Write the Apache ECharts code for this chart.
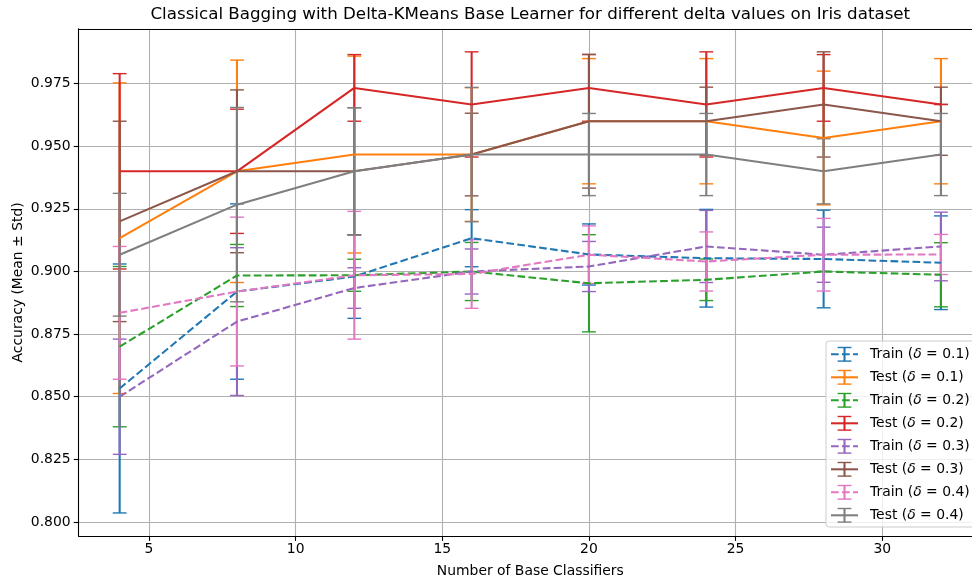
<!DOCTYPE html>
<html>
<head>
<meta charset="utf-8">
<script src="https://cdn.jsdelivr.net/npm/echarts/dist/echarts.min.js"></script>
<style>
  html, body { margin: 0; padding: 0; background: #ffffff; }
  #chart { width: 972px; height: 582px; }
</style>
</head>
<body>
<div id="chart"></div>
<script>
// Ensemble sizes on the x axis
const ensembleSizes = [4, 8, 12, 16, 20, 24, 28, 32];

// Mean accuracy and standard deviation per delta value
const trainMean01 = [0.8533, 0.8920, 0.8980, 0.9133, 0.9068, 0.9053, 0.9050, 0.9035];
const trainStd01  = [0.0497, 0.0350, 0.0167, 0.0114, 0.0122, 0.0195, 0.0195, 0.0187];
const testMean01  = [0.9133, 0.9400, 0.9467, 0.9467, 0.9600, 0.9600, 0.9533, 0.9600];
const testStd01   = [0.0620, 0.0444, 0.0393, 0.0267, 0.0250, 0.0250, 0.0267, 0.0250];

const trainMean02 = [0.8700, 0.8984, 0.8985, 0.9000, 0.8953, 0.8967, 0.9000, 0.8987];
const trainStd02  = [0.0320, 0.0124, 0.0064, 0.0116, 0.0194, 0.0083, 0.0000, 0.0128];
const testMean02  = [0.9400, 0.9400, 0.9733, 0.9667, 0.9733, 0.9667, 0.9733, 0.9667];
const testStd02   = [0.0390, 0.0248, 0.0133, 0.0210, 0.0133, 0.0210, 0.0133, 0.0000];

const trainMean03 = [0.8500, 0.8800, 0.8934, 0.9000, 0.9020, 0.9100, 0.9067, 0.9100];
const trainStd03  = [0.0230, 0.0295, 0.0081, 0.0090, 0.0100, 0.0144, 0.0110, 0.0137];
const testMean03  = [0.9200, 0.9400, 0.9400, 0.9467, 0.9600, 0.9600, 0.9667, 0.9600];
const testStd03   = [0.0400, 0.0325, 0.0254, 0.0165, 0.0267, 0.0136, 0.0210, 0.0136];

const trainMean04 = [0.8835, 0.8920, 0.8985, 0.8990, 0.9067, 0.9040, 0.9067, 0.9068];
const trainStd04  = [0.0265, 0.0297, 0.0255, 0.0137, 0.0115, 0.0118, 0.0145, 0.0080];
const testMean04  = [0.9067, 0.9267, 0.9400, 0.9467, 0.9467, 0.9467, 0.9400, 0.9467];
const testStd04   = [0.0245, 0.0388, 0.0254, 0.0268, 0.0164, 0.0164, 0.0130, 0.0164];

// Axis ticks
const xTickValues = [5, 10, 15, 20, 25, 30];
const yTickValues = [0.800, 0.825, 0.850, 0.875, 0.900, 0.925, 0.950, 0.975];

const seriesDefs = [
  { label: 'Train', delta: '0.1', color: '#1f77b4', dashed: true,  mean: trainMean01, std: trainStd01 },
  { label: 'Test',  delta: '0.1', color: '#ff7f0e', dashed: false, mean: testMean01,  std: testStd01 },
  { label: 'Train', delta: '0.2', color: '#2ca02c', dashed: true,  mean: trainMean02, std: trainStd02 },
  { label: 'Test',  delta: '0.2', color: '#d62728', dashed: false, mean: testMean02,  std: testStd02 },
  { label: 'Train', delta: '0.3', color: '#9467bd', dashed: true,  mean: trainMean03, std: trainStd03 },
  { label: 'Test',  delta: '0.3', color: '#8c564b', dashed: false, mean: testMean03,  std: testStd03 },
  { label: 'Train', delta: '0.4', color: '#e377c2', dashed: true,  mean: trainMean04, std: trainStd04 },
  { label: 'Test',  delta: '0.4', color: '#7f7f7f', dashed: false, mean: testMean04,  std: testStd04 }
];

// Layout of the axes box (pixels)
const FONT = 'DejaVu Sans';
const FS = 13.9;
const AX_LEFT = 78.6, AX_TOP = 28.8, AX_HEIGHT = 507.2, AX_WIDTH = 903.4;
const X_MIN = 2.6, X_MAX = 33.4, Y_MIN = 0.7944, Y_MAX = 0.9969;
const pxPerX = AX_WIDTH / (X_MAX - X_MIN);
const pxPerY = AX_HEIGHT / (Y_MAX - Y_MIN);
const xTickLeft = AX_LEFT + (xTickValues[0] - X_MIN) * pxPerX;
const xTickWidth = (xTickValues[xTickValues.length - 1] - xTickValues[0]) * pxPerX;
const yTickTop = AX_TOP + (Y_MAX - yTickValues[yTickValues.length - 1]) * pxPerY;
const yTickHeight = (yTickValues[yTickValues.length - 1] - yTickValues[0]) * pxPerY;

const DASH = [7.7, 3.3];
const LW = 2.08;
const CAP_LW = 1.4;
const CAP = 6.9;

// Vertical error bar with caps at mean - std and mean + std
function errorBars(def) {
  return {
    type: 'custom',
    name: def.label + def.delta,
    xAxisIndex: 2, yAxisIndex: 2,
    z: 2,
    silent: true,
    animation: false,
    data: ensembleSizes.map((x, i) => [x, def.mean[i] - def.std[i], def.mean[i] + def.std[i]]),
    renderItem(params, api) {
      const x = api.value(0);
      const lo = api.coord([x, api.value(1)]);
      const hi = api.coord([x, api.value(2)]);
      const bar = { stroke: def.color, lineWidth: LW };
      const cap = { stroke: def.color, lineWidth: CAP_LW };
      return {
        type: 'group',
        children: [
          { type: 'line', shape: { x1: lo[0], y1: lo[1], x2: hi[0], y2: hi[1] }, style: bar },
          { type: 'line', shape: { x1: lo[0] - CAP, y1: lo[1], x2: lo[0] + CAP, y2: lo[1] }, style: cap },
          { type: 'line', shape: { x1: hi[0] - CAP, y1: hi[1], x2: hi[0] + CAP, y2: hi[1] }, style: cap }
        ]
      };
    }
  };
}

// Line through the mean values, drawn above all error bars
function meanLine(def) {
  return {
    type: 'line',
    name: def.label + ' ' + def.delta,
    xAxisIndex: 2, yAxisIndex: 2,
    z: 3,
    silent: true,
    animation: false,
    symbol: 'none',
    data: ensembleSizes.map((x, i) => [x, def.mean[i]]),
    lineStyle: { color: def.color, width: LW, type: def.dashed ? DASH : 'solid' }
  };
}

// Legend drawn as graphic elements
const legendChildren = [];
const LEG_X = 826, LEG_Y = 341, LEG_ROW0 = 354.3, LEG_STEP = 23.0;
legendChildren.push({
  type: 'rect',
  shape: { x: LEG_X, y: LEG_Y, width: 170, height: 186, r: 3 },
  style: { fill: 'rgba(255,255,255,0.8)', stroke: '#cccccc', lineWidth: 1 },
  z: 100
});
seriesDefs.forEach((def, i) => {
  const yc = LEG_ROW0 + i * LEG_STEP;
  legendChildren.push({
    type: 'line', z: 101,
    shape: { x1: 831, y1: yc, x2: 858, y2: yc },
    style: { stroke: def.color, lineWidth: LW, lineDash: def.dashed ? DASH : null }
  });
  legendChildren.push({
    type: 'line', z: 101,
    shape: { x1: 844.5, y1: yc - 6.8, x2: 844.5, y2: yc + 6.8 },
    style: { stroke: def.color, lineWidth: LW }
  });
  legendChildren.push({
    type: 'line', z: 101,
    shape: { x1: 844.5 - CAP, y1: yc - 6.8, x2: 844.5 + CAP, y2: yc - 6.8 },
    style: { stroke: def.color, lineWidth: CAP_LW }
  });
  legendChildren.push({
    type: 'line', z: 101,
    shape: { x1: 844.5 - CAP, y1: yc + 6.8, x2: 844.5 + CAP, y2: yc + 6.8 },
    style: { stroke: def.color, lineWidth: CAP_LW }
  });
  legendChildren.push({
    type: 'text', z: 101,
    style: {
      x: 870, y: yc,
      text: def.label + ' ({d|δ} = ' + def.delta + ')',
      fontFamily: FONT, fontSize: FS, fill: '#000000',
      align: 'left', verticalAlign: 'middle',
      rich: { d: { fontFamily: FONT, fontSize: FS, fontStyle: 'italic', fill: '#000000' } }
    }
  });
});

const spine = { show: true, onZero: false, lineStyle: { color: '#000000', width: 1.1 } };
const hiddenParts = {
  axisTick: { show: false }, axisLabel: { show: false }, splitLine: { show: false }
};

const chart = echarts.init(document.getElementById('chart'), null, { renderer: 'canvas' });

const option = {
  backgroundColor: '#ffffff',
  animation: false,
  grid: [
    // vertical grid lines and x tick labels
    { left: xTickLeft, top: AX_TOP, width: xTickWidth, height: AX_HEIGHT, outerBoundsMode: 'none', containLabel: false },
    // horizontal grid lines and y tick labels
    { left: AX_LEFT, top: yTickTop, width: AX_WIDTH, height: yTickHeight, outerBoundsMode: 'none', containLabel: false },
    // data area with spines
    { left: AX_LEFT, top: AX_TOP, width: AX_WIDTH, height: AX_HEIGHT, outerBoundsMode: 'none', containLabel: false }
  ],
  xAxis: [
    {
      gridIndex: 0, type: 'value',
      min: xTickValues[0], max: xTickValues[xTickValues.length - 1], interval: 5,
      axisLine: { show: false },
      axisTick: { show: true, inside: false, length: 4.9, lineStyle: { color: '#000000', width: 1.1 } },
      axisLabel: { show: true, margin: 6, color: '#000000', fontFamily: FONT, fontSize: FS,
                   formatter: v => String(Math.round(v)) },
      splitLine: { show: true, lineStyle: { color: '#b0b0b0', width: 1.1 } }
    },
    { gridIndex: 1, type: 'value', min: 0, max: 1, show: false },
    Object.assign({ gridIndex: 2, type: 'value', min: X_MIN, max: X_MAX, position: 'bottom', axisLine: spine }, hiddenParts),
    Object.assign({ gridIndex: 2, type: 'value', min: X_MIN, max: X_MAX, position: 'top', axisLine: spine }, hiddenParts)
  ],
  yAxis: [
    { gridIndex: 0, type: 'value', min: 0, max: 1, show: false },
    {
      gridIndex: 1, type: 'value',
      min: yTickValues[0], max: yTickValues[yTickValues.length - 1], interval: 0.025,
      axisLine: { show: false },
      axisTick: { show: true, inside: false, length: 4.9, lineStyle: { color: '#000000', width: 1.1 } },
      axisLabel: { show: true, margin: 8, color: '#000000', fontFamily: FONT, fontSize: FS,
                   formatter: v => v.toFixed(3) },
      splitLine: { show: true, lineStyle: { color: '#b0b0b0', width: 1.1 } }
    },
    Object.assign({ gridIndex: 2, type: 'value', min: Y_MIN, max: Y_MAX, position: 'left', axisLine: spine }, hiddenParts)
  ],
  series: seriesDefs.map(errorBars).concat(seriesDefs.map(meanLine)),
  graphic: [
    {
      type: 'text', z: 50,
      style: {
        x: AX_LEFT + AX_WIDTH / 2, y: 15,
        text: 'Classical Bagging with Delta-KMeans Base Learner for different delta values on Iris dataset',
        fontFamily: FONT, fontSize: 16.7, fill: '#000000', align: 'center', verticalAlign: 'middle'
      }
    },
    {
      type: 'text', z: 50,
      style: {
        x: AX_LEFT + AX_WIDTH / 2, y: 571,
        text: 'Number of Base Classifiers',
        fontFamily: FONT, fontSize: FS, fill: '#000000', align: 'center', verticalAlign: 'middle'
      }
    },
    {
      type: 'text', z: 50,
      x: 18, y: AX_TOP + AX_HEIGHT / 2, rotation: Math.PI / 2,
      style: {
        x: 0, y: 0,
        text: 'Accuracy (Mean ± Std)',
        fontFamily: FONT, fontSize: FS, fill: '#000000', align: 'center', verticalAlign: 'middle'
      }
    },
    { type: 'group', children: legendChildren }
  ]
};

chart.setOption(option);
</script>
</body>
</html>
